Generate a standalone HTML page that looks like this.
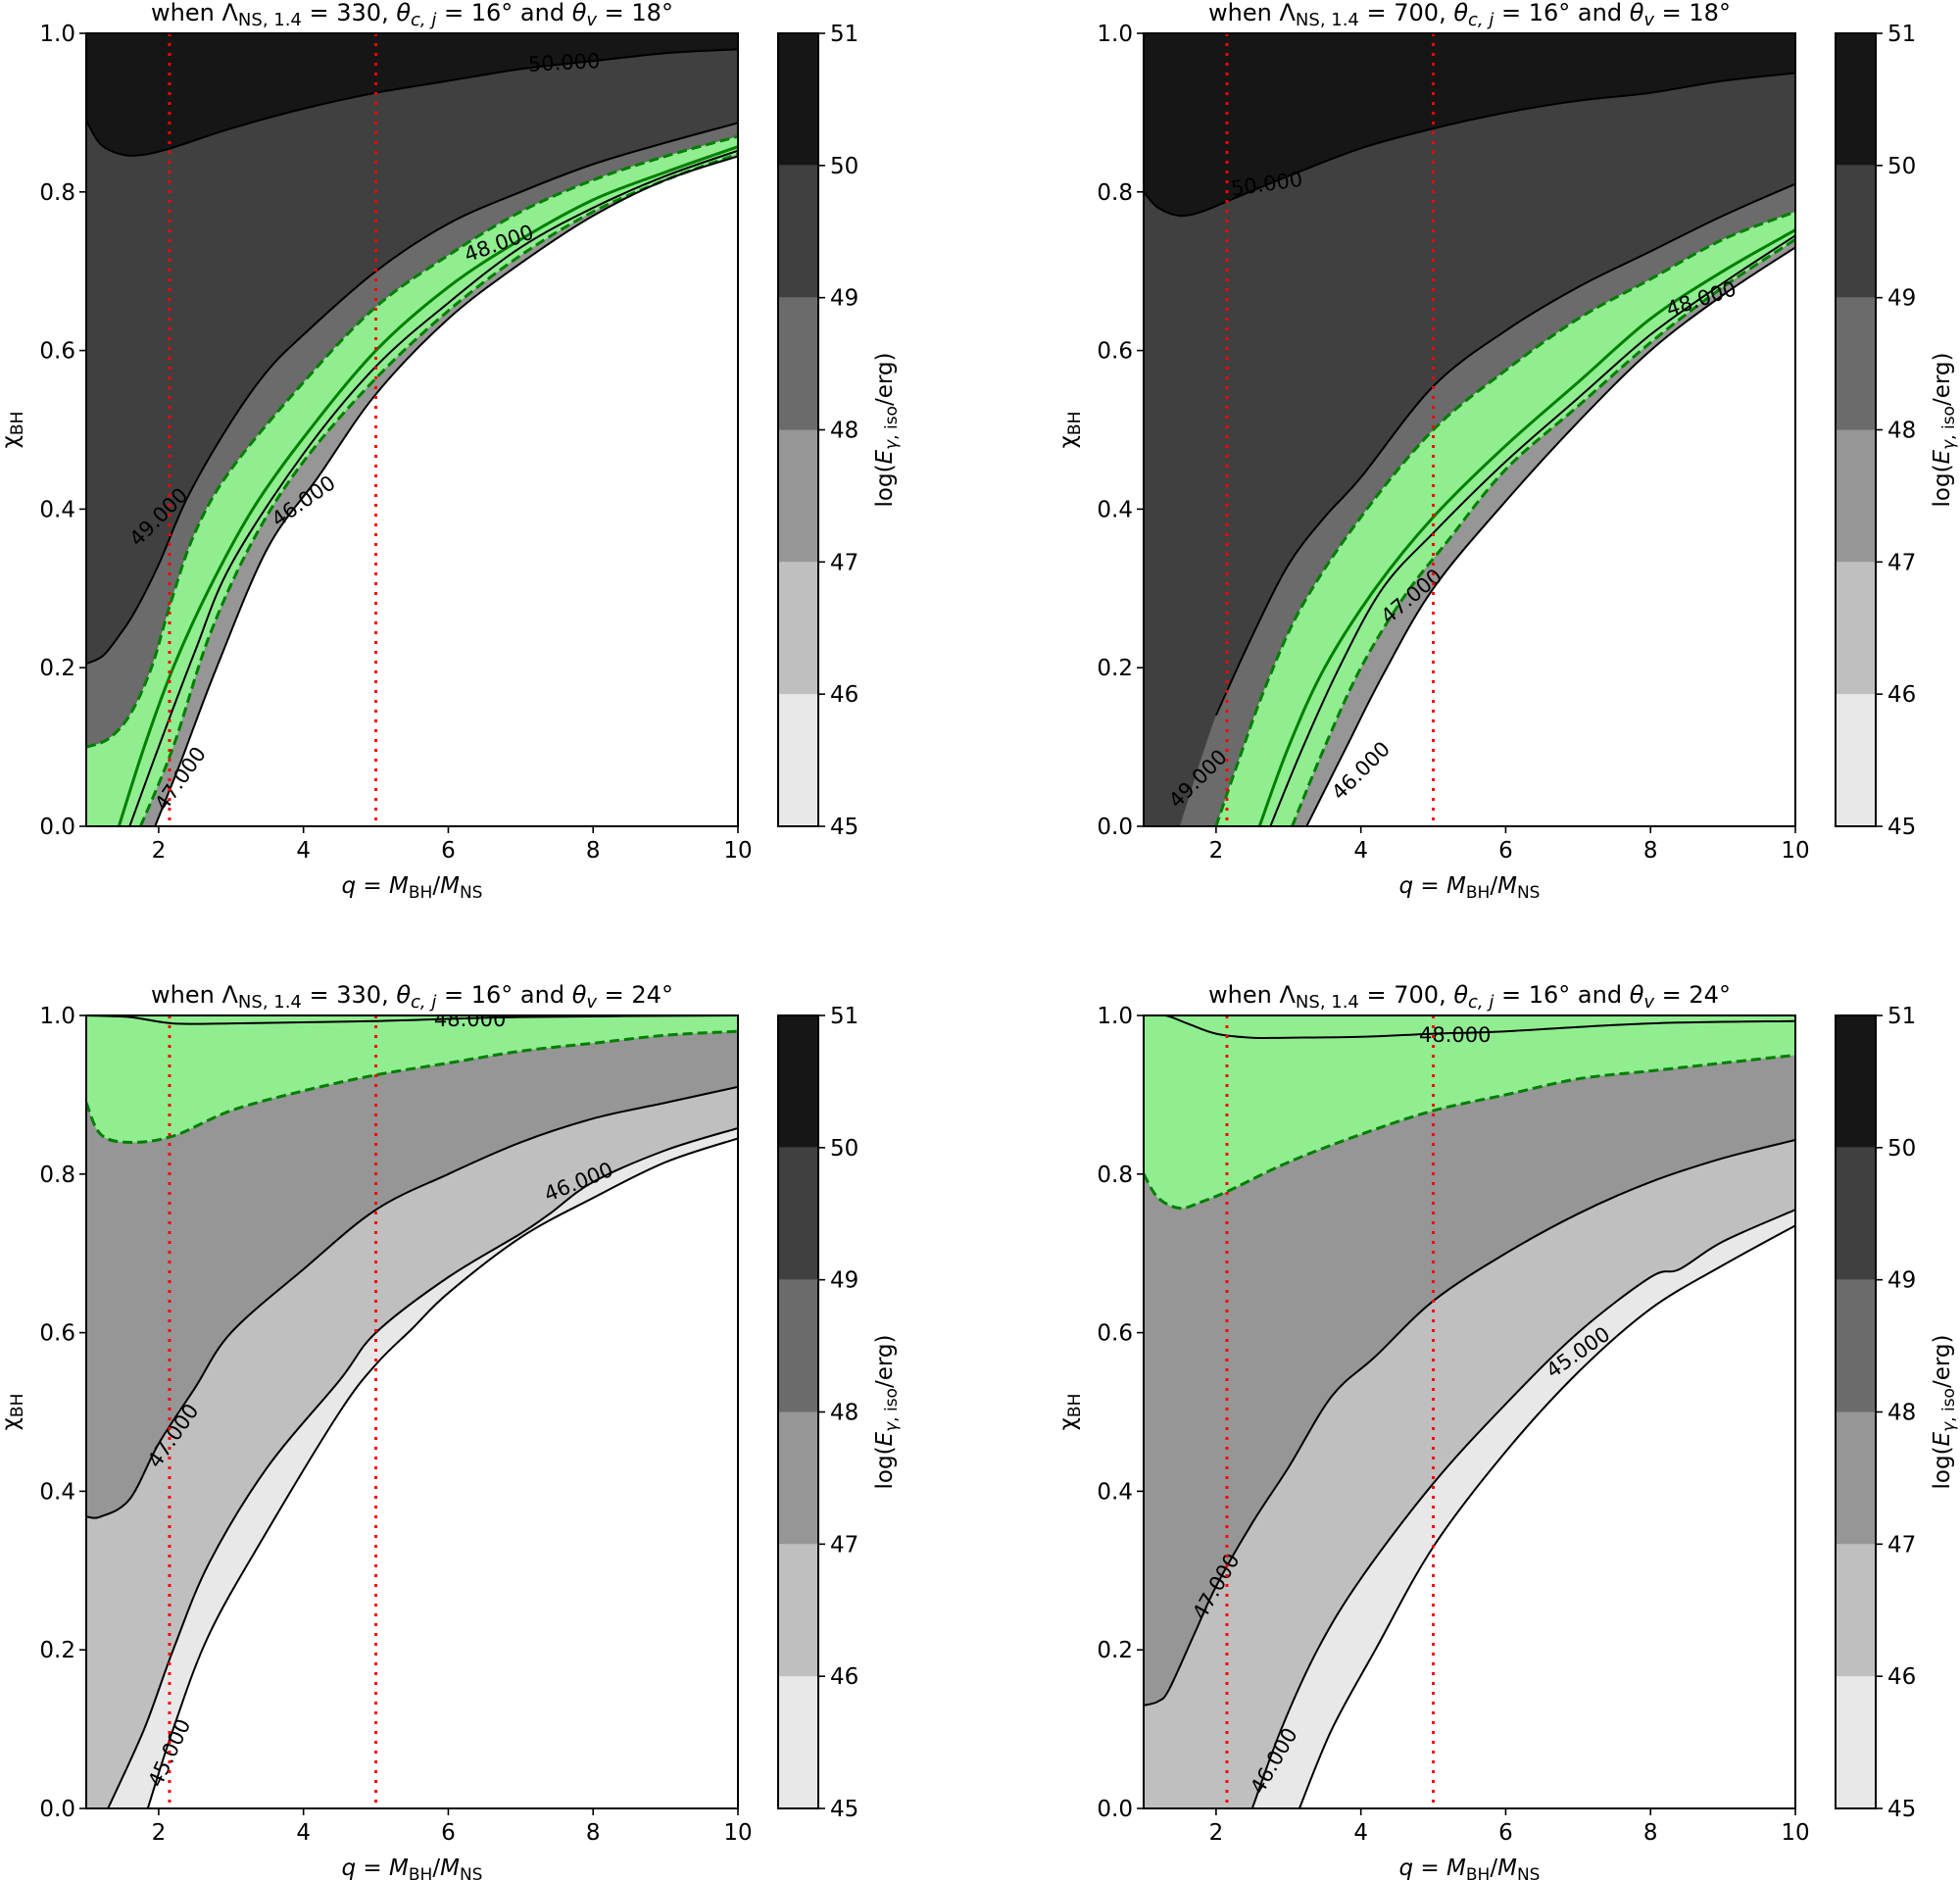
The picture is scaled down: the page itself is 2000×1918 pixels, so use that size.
<!DOCTYPE html>
<html><head><meta charset="utf-8"><style>
html,body{margin:0;padding:0;background:#fff;}
svg{display:block;font-family:"DejaVu Sans","Liberation Sans",sans-serif;}
</style></head><body>
<svg id="fig" width="2000" height="1918" viewBox="0 0 2000 1918" xmlns="http://www.w3.org/2000/svg"></svg>
<script>
// ---- data: contour curves [q, chi] ----
const levels = [45,46,47,48,49,50,51];
const cbColors = ['#e8e8e8','#bfbfbf','#969696','#6b6b6b','#404040','#161616'];
const refLines = [2.15, 5];
const xTicks = [2,4,6,8,10];
const yTicks = [0,0.2,0.4,0.6,0.8,1.0];

const tl50 = [[1,0.89],[1.2,0.86],[1.5,0.847],[1.8,0.847],[2.2,0.856],[3,0.88],[4,0.905],[5,0.925],[6,0.94],[7,0.955],[8,0.965],[9,0.975],[10,0.98]];
const tl49 = [[1,0.205],[1.23,0.215],[1.45,0.24],[1.68,0.272],[2.0,0.33],[2.4,0.415],[3,0.51],[3.5,0.574],[4,0.62],[5,0.70],[6,0.76],[7,0.80],[8,0.835],[9,0.862],[10,0.887]];
const tl48d = [[1,0.10],[1.3,0.11],[1.6,0.14],[1.9,0.2],[2.16,0.28],[2.5,0.37],[3,0.45],[4,0.56],[5,0.655],[6,0.72],[7,0.775],[8,0.815],[9,0.845],[10,0.87]];
const tlGs = [[1.45,0],[1.8,0.1],[2.2,0.2],[2.7,0.3],[3.3,0.4],[4,0.49],[5,0.6],[6,0.68],[7,0.74],[8,0.79],[9,0.825],[10,0.857]];
const tl47 = [[1.6,0],[2.0,0.1],[2.5,0.22],[3,0.33],[4,0.47],[5,0.58],[6,0.66],[7,0.73],[8,0.78],[9,0.82],[10,0.852]];
const tlLd = [[1.75,0],[2.2,0.1],[2.7,0.24],[3.3,0.36],[4,0.46],[5,0.565],[6,0.65],[7,0.72],[8,0.775],[9,0.815],[10,0.848]];
const tlLow = [[1.95,0],[2.3,0.08],[2.8,0.2],[3.5,0.35],[4.2,0.44],[5,0.545],[6,0.64],[7,0.71],[8,0.77],[9,0.815],[10,0.845]];

const tr50 = [[1,0.80],[1.2,0.78],[1.5,0.77],[1.8,0.775],[2.2,0.79],[3,0.82],[4,0.855],[5,0.88],[6,0.9],[7,0.915],[8,0.925],[9,0.94],[10,0.95]];
const tr49 = [[1.5,0],[2.0,0.14],[2.5,0.24],[3,0.33],[3.5,0.39],[4,0.44],[5,0.555],[6,0.625],[7,0.68],[8,0.725],[9,0.77],[10,0.81]];
const tr48d = [[2.0,0],[2.3,0.08],[2.7,0.18],[3.2,0.28],[4,0.39],[5,0.5],[6,0.575],[7,0.64],[8,0.69],[9,0.74],[10,0.775]];
const trGs = [[2.6,0],[3.0,0.1],[3.5,0.2],[4.2,0.3],[5,0.39],[6,0.48],[7,0.56],[8,0.64],[9,0.7],[10,0.752]];
const tr47 = [[2.75,0],[3.2,0.1],[3.7,0.2],[4.3,0.3],[5,0.37],[6,0.46],[7,0.54],[8,0.62],[9,0.685],[10,0.745]];
const trLd = [[3.05,0],[3.5,0.1],[4.0,0.2],[4.6,0.29],[5.2,0.36],[6,0.45],[7,0.53],[8,0.61],[9,0.68],[10,0.74]];
const trLow = [[3.25,0],[3.8,0.1],[4.3,0.19],[5,0.3],[6,0.41],[7,0.51],[8,0.6],[9,0.67],[10,0.73]];

const bl48 = [[1,1.0],[1.6,0.998],[2.2,0.99],[3,0.99],[5,0.993],[7,0.998],[10,1.0]];
const bl48d = [[1,0.89],[1.2,0.85],[1.6,0.84],[2.2,0.848],[3,0.88],[4,0.905],[5,0.925],[6,0.94],[7,0.955],[8,0.965],[9,0.975],[10,0.98]];
const bl47 = [[1,0.368],[1.2,0.368],[1.6,0.39],[2,0.46],[2.5,0.53],[3,0.6],[4,0.68],[5,0.755],[6,0.8],[7,0.84],[8,0.87],[9,0.89],[10,0.91]];
const bl46 = [[1.3,0],[1.8,0.1],[2.2,0.2],[2.7,0.31],[3.5,0.43],[4.5,0.54],[5,0.6],[6,0.67],[7,0.725],[7.4,0.75],[8,0.79],[9,0.83],[10,0.858]];
const bl45 = [[1.85,0],[2.2,0.1],[2.7,0.22],[3.5,0.35],[4.5,0.5],[5,0.56],[5.5,0.605],[6,0.65],[7,0.72],[8,0.77],[9,0.815],[10,0.845]];

const br48 = [[1,1.0],[1.3,1.0],[1.6,0.99],[2,0.977],[2.5,0.972],[3,0.972],[4,0.973],[5,0.977],[6,0.98],[8,0.99],[10,0.993]];
const br48d = [[1,0.80],[1.2,0.77],[1.5,0.757],[1.8,0.765],[2.2,0.78],[3,0.815],[4,0.85],[5,0.88],[6,0.9],[7,0.92],[8,0.93],[9,0.94],[10,0.95]];
const br47 = [[1,0.13],[1.2,0.135],[1.35,0.15],[1.7,0.22],[2,0.28],[2.5,0.36],[3,0.43],[3.6,0.52],[4.2,0.57],[5,0.64],[6,0.7],[7,0.75],[8,0.79],[9,0.82],[10,0.843]];
const br46 = [[2.5,0],[2.9,0.1],[3.4,0.2],[4,0.29],[5,0.41],[6,0.51],[7,0.6],[8,0.67],[8.4,0.68],[9,0.715],[10,0.755]];
const br45 = [[3.15,0],[3.6,0.1],[4.2,0.2],[5,0.33],[6,0.45],[7,0.55],[8,0.63],[9,0.685],[10,0.735]];

const NS='http://www.w3.org/2000/svg';
const svg=document.getElementById('fig');
function mk(tag,attrs,parent){const e=document.createElementNS(NS,tag);for(const k in attrs)e.setAttribute(k,attrs[k]);(parent||svg).appendChild(e);return e;}

function smooth(P){
  let d='M'+P[0][0].toFixed(1)+','+P[0][1].toFixed(1);
  for(let i=0;i<P.length-1;i++){
    const p0=P[Math.max(0,i-1)],p1=P[i],p2=P[i+1],p3=P[Math.min(P.length-1,i+2)];
    const c1=[p1[0]+(p2[0]-p0[0])/6,p1[1]+(p2[1]-p0[1])/6];
    const c2=[p2[0]-(p3[0]-p1[0])/6,p2[1]-(p3[1]-p1[1])/6];
    d+=' C'+c1[0].toFixed(1)+','+c1[1].toFixed(1)+' '+c2[0].toFixed(1)+','+c2[1].toFixed(1)+' '+p2[0].toFixed(1)+','+p2[1].toFixed(1);
  }
  return d;
}

const GREEN='#90ee90', DG='#007f00';
const panels=[
 {ox:88,oy:34,lam:'330',tv:'18',top:'#161616',
  bands:[[tl50,'#404040'],[tl49,'#6b6b6b'],[tl48d,GREEN],[tlLd,'#969696'],[tlLow,'#ffffff']],
  lines:[[tl50,'k'],[tl49,'k'],[tl48d,'gd'],[tlGs,'gs'],[tl47,'k'],[tlLd,'gd'],[tlLow,'k']],
  labels:[['50.000',7.6,0.963,-3],['48.000',6.7,0.735,-20],['49.000',2.0,0.39,-45],['46.000',4.0,0.41,-35],['47.000',2.3,0.06,-55]]},
 {ox:1167,oy:34,lam:'700',tv:'18',top:'#161616',
  bands:[[tr50,'#404040'],[tr49,'#6b6b6b'],[tr48d,GREEN],[trLd,'#969696'],[trLow,'#ffffff']],
  lines:[[tr50,'k'],[tr49.slice(1),'k'],[tr48d,'gd'],[trGs,'gs'],[tr47,'k'],[trLd,'gd'],[trLow,'k']],
  labels:[['50.000',2.7,0.81,-8],['48.000',8.7,0.665,-18],['49.000',1.75,0.06,-45],['47.000',4.7,0.29,-40],['46.000',4.0,0.07,-45]]},
 {ox:88,oy:1036,lam:'330',tv:'24',top:GREEN,
  bands:[[bl48d,'#969696'],[bl47,'#bfbfbf'],[bl46,'#e8e8e8'],[bl45,'#ffffff']],
  lines:[[bl48,'k'],[bl48d,'gd'],[bl47,'k'],[bl46,'k'],[bl45,'k']],
  labels:[['48.000',6.3,0.995,0],['47.000',2.2,0.47,-55],['46.000',7.8,0.79,-22],['45.000',2.15,0.07,-65]]},
 {ox:1167,oy:1036,lam:'700',tv:'24',top:GREEN,
  bands:[[br48d,'#969696'],[br47,'#bfbfbf'],[br46,'#e8e8e8'],[br45,'#ffffff']],
  lines:[[br48,'k'],[br48d,'gd'],[br47,'k'],[br46,'k'],[br45,'k']],
  labels:[['48.000',5.3,0.975,0],['47.000',2.0,0.28,-60],['45.000',7.0,0.575,-35],['46.000',2.8,0.06,-60]]}
];
const W=665,H=809;
const FS=23, SFS=17;

panels.forEach((p,pi)=>{
  const g=mk('g',{});
  
  
  const X=q=>p.ox+(q-1)/9*W, Y=c=>p.oy+H-c*H;
  const scr=a=>a.map(d=>[X(d[0]),Y(d[1])]);
  const cp=mk('clipPath',{id:'clip'+pi},g);
  mk('rect',{x:p.ox,y:p.oy,width:W,height:H},cp);
  const inner=mk('g',{'clip-path':`url(#clip${pi})`},g);
  const bg=mk('rect',{x:p.ox,y:p.oy,width:W,height:H,fill:p.top},inner);
   
  p.bands.forEach(([c,col])=>{
    const first=c[0]; const q0=first[1]===0?first[0]:1;
    const d=smooth(scr(c))+` L${X(10)+2},${Y(c[c.length-1][1])} L${X(10)+2},${Y(0)+2} L${X(q0)-(q0===1?2:0)},${Y(0)+2} Z`;
    const e=mk('path',{d:d,fill:col},inner);
    
    
  });
  p.lines.forEach(([c,st])=>{
    const a={d:smooth(scr(c)),fill:'none','stroke-linejoin':'round'};
    if(st==='k'){a.stroke='#000';a['stroke-width']=2;}
    else if(st==='gs'){a.stroke=DG;a['stroke-width']=3;}
    else {a.stroke=DG;a['stroke-width']=3;a['stroke-dasharray']='10 5';}
    const e=mk('path',a,inner);
    
    
  });
  p.labels.forEach(([t,q,c,ang])=>{
    const e=mk('text',{x:X(q),y:Y(c),'font-size':21,'text-anchor':'middle','dominant-baseline':'central',transform:`rotate(${ang} ${X(q)} ${Y(c)})`},inner);
    e.textContent=t;
    
    
  });
  refLines.forEach(q=>{
    const e=mk('line',{x1:X(q),x2:X(q),y1:p.oy,y2:p.oy+H,stroke:'#ff0000','stroke-width':3,'stroke-dasharray':'3 7'},inner);
    
    
  });
  mk('rect',{x:p.ox,y:p.oy,width:W,height:H,fill:'none',stroke:'#000','stroke-width':2},g);
  xTicks.forEach(t=>{
    mk('line',{x1:X(t),x2:X(t),y1:p.oy+H,y2:p.oy+H+7,stroke:'#000','stroke-width':1.6},g);
    const e=mk('text',{x:X(t),y:p.oy+H+32,'font-size':FS,'text-anchor':'middle'},g);
    e.textContent=String(t);
     
  });
  yTicks.forEach(t=>{
    mk('line',{x1:p.ox-7,x2:p.ox,y1:Y(t),y2:Y(t),stroke:'#000','stroke-width':1.6},g);
    const e=mk('text',{x:p.ox-11,y:Y(t)+8,'font-size':FS,'text-anchor':'end'},g);
    e.textContent=t.toFixed(1);
     
  });
  const tt=mk('text',{x:p.ox+W/2,y:p.oy-13,'font-size':24,'text-anchor':'middle'},g);
   
  tt.innerHTML=`when Λ<tspan font-size="18" dy="5">NS, 1.4</tspan><tspan dy="-5"> = ${p.lam}, </tspan><tspan font-style="italic">θ</tspan><tspan font-size="18" dy="5" font-style="italic">c, j</tspan><tspan dy="-5"> = 16° and </tspan><tspan font-style="italic">θ</tspan><tspan font-size="18" dy="5" font-style="italic">v</tspan><tspan dy="-5"> = ${p.tv}°</tspan>`;
  const xl=mk('text',{x:p.ox+W/2,y:p.oy+H+68,'font-size':FS,'text-anchor':'middle'},g);
   
  xl.innerHTML=`<tspan font-style="italic">q</tspan> = <tspan font-style="italic">M</tspan><tspan font-size="${SFS}" dy="5">BH</tspan><tspan dy="-5">/</tspan><tspan font-style="italic">M</tspan><tspan font-size="${SFS}" dy="5">NS</tspan>`;
  const yl=mk('text',{x:0,y:0,'font-size':FS,'text-anchor':'middle',transform:`translate(${p.ox-70} ${p.oy+H/2}) rotate(-90)`},g);
   
  yl.innerHTML=`χ<tspan font-size="${SFS}" dy="5">BH</tspan>`;
  const cx=p.ox+706, cw=41;
  const CY=v=>p.oy+H-(v-45)/6*H;
  cbColors.forEach((col,i)=>{
    const e=mk('rect',{x:cx,y:CY(levels[i+1]),width:cw,height:CY(levels[i])-CY(levels[i+1]),fill:col},g);
     
  });
  mk('rect',{x:cx,y:p.oy,width:cw,height:H,fill:'none',stroke:'#000','stroke-width':2},g);
  levels.forEach(v=>{
    mk('line',{x1:cx+cw,x2:cx+cw+7,y1:CY(v),y2:CY(v),stroke:'#000','stroke-width':1.6},g);
    const e=mk('text',{x:cx+cw+12,y:CY(v)+8,'font-size':FS},g);
    e.textContent=String(v);
     
  });
  const cl=mk('text',{x:0,y:0,'font-size':FS,'text-anchor':'middle',transform:`translate(${cx+cw+75} ${p.oy+H/2}) rotate(-90)`},g);
   
  cl.innerHTML=`log(<tspan font-style="italic">E</tspan><tspan font-size="${SFS}" dy="5"><tspan font-style="italic">γ</tspan>, iso</tspan><tspan dy="-5">/erg)</tspan>`;
});
</script>
</body></html>
